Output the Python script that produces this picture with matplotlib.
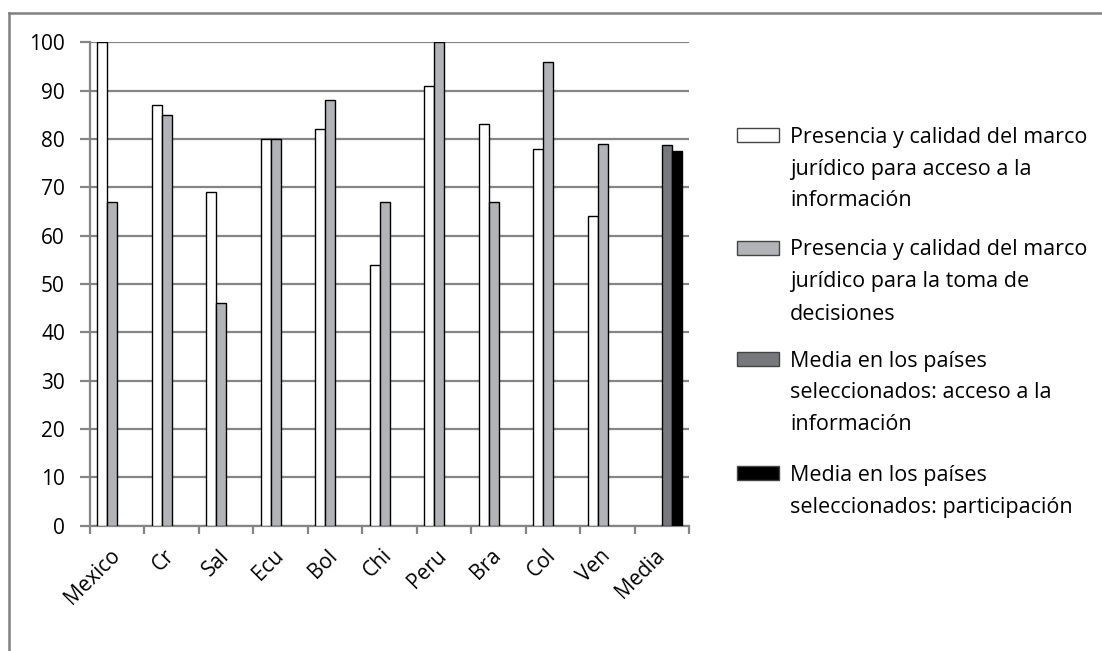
import numpy as np
import matplotlib.pyplot as plt
from matplotlib.patches import Rectangle
from matplotlib.lines import Line2D
from matplotlib.transforms import ScaledTranslation

plt.rcParams['font.family'] = ['Open Sans', 'DejaVu Sans']

paises = ['Mexico', 'Cr', 'Sal', 'Ecu', 'Bol', 'Chi', 'Peru', 'Bra', 'Col', 'Ven', 'Media']
acceso = [100, 87, 69, 80, 82, 54, 91, 83, 78, 64, 0]
decisiones = [67, 85, 46, 80, 88, 67, 100, 67, 96, 79, 0]
media_acceso = [0, 0, 0, 0, 0, 0, 0, 0, 0, 0, 78.8]
media_participacion = [0, 0, 0, 0, 0, 0, 0, 0, 0, 0, 77.5]

series = [acceso, decisiones, media_acceso, media_participacion]
colores = ['#ffffff', '#b1b3b6', '#77787b', '#000000']
etiquetas = [
    ['Presencia y calidad del marco', 'jurídico para acceso a la', 'información'],
    ['Presencia y calidad del marco', 'jurídico para la toma de', 'decisiones'],
    ['Media en los países', 'seleccionados: acceso a la', 'información'],
    ['Media en los países', 'seleccionados: participación'],
]

W, H = 1102, 651
fig = plt.figure(figsize=(W / 100, H / 100), dpi=100)
ax = fig.add_axes([90 / W, 1 - 525.7 / H, 599.3 / W, 483.4 / H])

grid_col = '#858585'
x = np.arange(len(paises))
ancho = 0.1835
for i, (vals, col) in enumerate(zip(series, colores)):
    vals = np.array(vals, dtype=float)
    pos = x + (i - 1.5) * ancho
    m = vals > 0  # sin barras vacías en la base
    ax.bar(pos[m], vals[m], width=ancho, color=col, edgecolor='black', linewidth=1, zorder=3)

ax.set_xlim(-0.5, len(paises) - 0.5)
ax.set_ylim(0, 100)
ax.set_yticks(range(0, 101, 10))
ax.yaxis.grid(True, color=grid_col, linewidth=1.6, zorder=0)
ax.set_xticks(np.arange(len(paises) + 1) - 0.5, minor=True)
ax.set_xticks(x)
ax.set_xticklabels(paises, rotation=45, ha='right', va='top', rotation_mode='anchor')
ax.tick_params(axis='x', which='major', length=0, pad=14)
ax.tick_params(axis='x', which='minor', length=6, width=1.6, color=grid_col)
ax.tick_params(axis='y', length=7, width=1.6, color=grid_col, pad=11)
ax.tick_params(labelsize=15)
shift = ScaledTranslation(-8 / 100, 0, fig.dpi_scale_trans)
for lab in ax.get_xticklabels():
    lab.set_transform(lab.get_transform() + shift)
for s in ['top', 'right']:
    ax.spines[s].set_visible(False)
for s in ['left', 'bottom']:
    ax.spines[s].set_color(grid_col)
    ax.spines[s].set_linewidth(1.6)

# marco exterior (solo arriba e izquierda)
fig.add_artist(Line2D([9 / W, 9 / W], [0, 1 - 13 / H], color='#808080', linewidth=1.8))
fig.add_artist(Line2D([9 / W, 1], [1 - 13 / H, 1 - 13 / H], color='#808080', linewidth=1.8))

# leyenda
tops = [128, 241, 352, 466]
for top, col, lineas in zip(tops, colores, etiquetas):
    fig.add_artist(Rectangle((737 / W, 1 - (top + 14) / H), 42 / W, 14 / H,
                             facecolor=col, edgecolor='#444444', linewidth=1,
                             transform=fig.transFigure))
    for k, linea in enumerate(lineas):
        base = top + 14.5 + 32 * k
        fig.text(790 / W, 1 - base / H, linea, fontsize=15.5, va='baseline', ha='left')

fig.savefig('out.png', dpi=100)
